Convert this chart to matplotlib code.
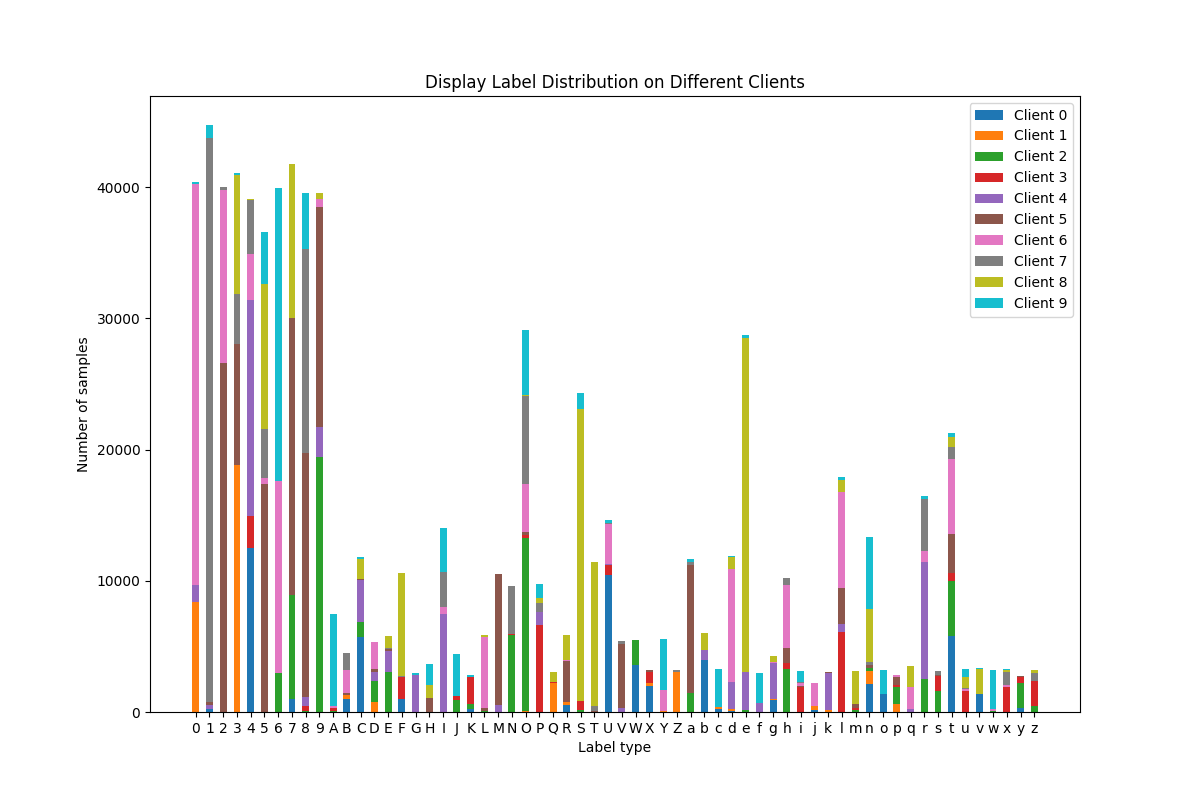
import string

import numpy as np
import matplotlib
matplotlib.use('Agg')
import matplotlib.pyplot as plt

labels = list(string.digits + string.ascii_uppercase + string.ascii_lowercase)

# per-client sample counts, one value per label (digits | A-Z | a-z)
client0 = [0, 250, 0, 0, 12500, 0, 0, 1000, 0, 0,
           0, 1000, 5700, 0, 0, 1000, 0, 0, 0, 0, 230, 0, 0, 0, 0, 0, 0, 530, 0, 0, 10440, 0, 3580, 1980, 0, 0,
           0, 3980, 230, 85, 0, 0, 940, 0, 0, 190, 0, 0, 0, 2160, 1370, 0, 0, 0, 0, 5790, 0, 1370, 0, 0, 300, 0]
client1 = [8400, 0, 0, 18800, 0, 0, 0, 0, 0, 0,
           0, 330, 0, 790, 0, 0, 0, 0, 0, 0, 0, 0, 0, 0, 80, 0, 2200, 230, 0, 0, 0, 0, 0, 230, 80, 3050,
           0, 0, 140, 170, 0, 0, 85, 0, 0, 270, 190, 0, 0, 970, 0, 620, 0, 0, 0, 0, 0, 0, 0, 0, 0, 0]
client2 = [0, 0, 0, 0, 0, 0, 3000, 7950, 100, 19450,
           80, 0, 1170, 1570, 3070, 0, 0, 0, 0, 910, 380, 80, 0, 5870, 13200, 0, 0, 0, 150, 0, 0, 0, 1900, 0, 0, 0,
           1450, 0, 0, 0, 140, 0, 0, 3270, 0, 0, 0, 0, 190, 215, 0, 1300, 0, 2510, 1600, 4190, 0, 0, 80, 0, 1900, 460]
client3 = [0, 0, 0, 0, 2400, 0, 0, 0, 350, 0,
           200, 0, 0, 0, 0, 1630, 0, 0, 0, 300, 2060, 0, 0, 100, 230, 6630, 80, 0, 690, 0, 760, 0, 0, 840, 0, 0,
           0, 0, 0, 0, 0, 0, 0, 450, 1930, 0, 0, 6120, 80, 0, 0, 160, 0, 0, 1170, 610, 1600, 0, 0, 1900, 480, 1900]
client4 = [1250, 250, 0, 0, 16500, 0, 0, 0, 720, 2300,
           0, 0, 3200, 710, 1570, 0, 2800, 0, 7470, 0, 0, 0, 530, 0, 0, 1000, 0, 0, 0, 0, 80, 300, 0, 0, 0, 0,
           0, 770, 0, 2050, 2930, 710, 2730, 0, 0, 0, 2750, 590, 0, 0, 0, 0, 240, 8910, 0, 0, 0, 0, 0, 0, 0, 0]
client5 = [0, 250, 26600, 9250, 0, 17400, 0, 21100, 18600, 16700,
           50, 80, 80, 230, 150, 0, 0, 1070, 0, 0, 0, 220, 10000, 0, 230, 0, 0, 3120, 0, 80, 0, 4880, 0, 150, 0, 0,
           9750, 0, 0, 0, 0, 0, 0, 1160, 85, 0, 80, 2750, 350, 240, 0, 590, 0, 0, 50, 2970, 0, 0, 0, 0, 50, 0]
client6 = [30600, 0, 13200, 0, 3500, 400, 14600, 0, 0, 660,
           100, 1800, 0, 2030, 0, 0, 0, 0, 530, 0, 0, 5400, 0, 0, 3660, 0, 0, 80, 0, 0, 3050, 0, 0, 0, 1600, 0,
           0, 0, 0, 8580, 0, 0, 85, 4770, 200, 1750, 0, 7330, 0, 0, 0, 160, 1640, 840, 0, 5710, 130, 0, 150, 150, 0, 0]
client7 = [0, 43000, 200, 3800, 4100, 3800, 0, 0, 15500, 0,
           0, 1300, 0, 0, 80, 150, 0, 0, 2670, 0, 0, 0, 0, 3630, 6700, 690, 0, 0, 0, 380, 80, 230, 0, 0, 0, 150,
           230, 0, 0, 0, 0, 0, 0, 540, 60, 0, 0, 0, 0, 240, 0, 0, 0, 3960, 280, 910, 100, 0, 0, 990, 0, 610]
client8 = [0, 0, 0, 9100, 100, 11000, 0, 11700, 0, 400,
           0, 0, 1500, 0, 910, 7800, 0, 1000, 0, 0, 0, 150, 0, 0, 80, 380, 760, 1900, 22250, 10970, 0, 0, 0, 0, 0, 0,
           0, 1300, 0, 910, 25400, 0, 430, 0, 0, 0, 0, 920, 2500, 4000, 0, 0, 1620, 0, 0, 760, 840, 1900, 0, 150, 0, 230]
client9 = [100, 950, 0, 100, 0, 3950, 22300, 0, 4300, 0,
           7050, 0, 150, 0, 0, 0, 150, 1600, 3350, 3200, 150, 0, 0, 0, 4950, 1070, 0, 0, 1220, 0, 230, 0, 0, 0, 3890, 0,
           230, 0, 2930, 110, 280, 2270, 0, 0, 850, 0, 0, 160, 0, 5500, 1830, 0, 0, 230, 50, 300, 610, 80, 2970, 80, 0, 0]

clients = [client0, client1, client2, client3, client4,
           client5, client6, client7, client8, client9]

fig, ax = plt.subplots(figsize=(12, 8), dpi=100)

x = np.arange(len(labels))
bottom = np.zeros(len(labels))
for i, counts in enumerate(clients):
    counts = np.array(counts)
    ax.bar(x, counts, width=0.5, bottom=bottom, label=f"Client {i}")
    bottom += counts

ax.set_xticks(x)
ax.set_xticklabels(labels)
ax.set_title("Display Label Distribution on Different Clients")
ax.set_xlabel("Label type")
ax.set_ylabel("Number of samples")
ax.legend(loc="upper right")

fig.savefig("out.png", dpi=100)
plt.close(fig)
